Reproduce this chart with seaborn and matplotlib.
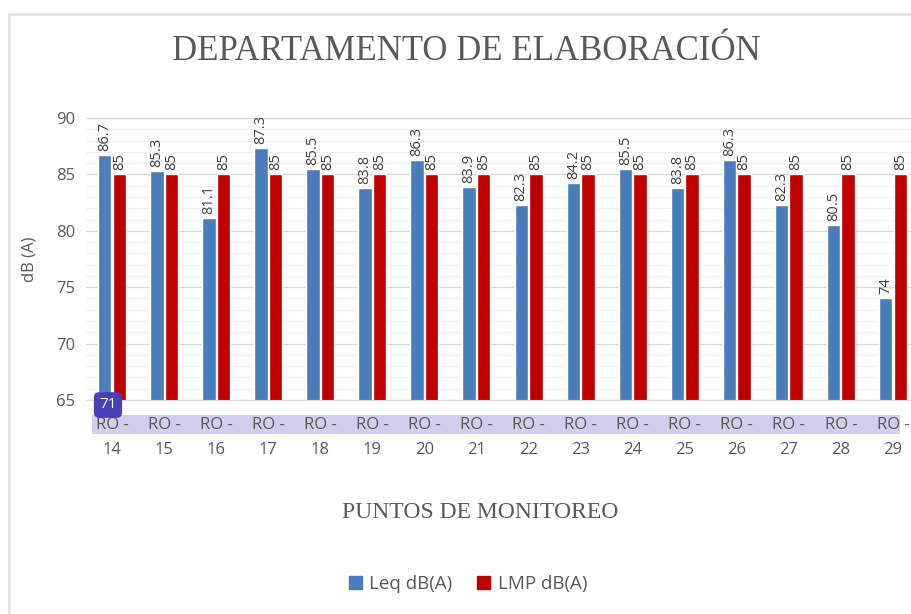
import pandas as pd
import matplotlib
matplotlib.use("Agg")
import matplotlib.pyplot as plt
import matplotlib.patches as mpatches
from matplotlib.ticker import MultipleLocator
import seaborn as sns

# datos del gráfico
puntos = ["RO -\n14", "RO -\n15", "RO -\n16", "RO -\n17", "RO -\n18", "RO -\n19",
          "RO -\n20", "RO -\n21", "RO -\n22", "RO -\n23", "RO -\n24", "RO -\n25",
          "RO -\n26", "RO -\n27", "RO -\n28", "RO -\n29"]
leq = [86.7, 85.3, 81.1, 87.3, 85.5, 83.8, 86.3, 83.9, 82.3, 84.2, 85.5, 83.8,
       86.3, 82.3, 80.5, 74]
lmp = [85] * 16
series = ["Leq dB(A)", "LMP dB(A)"]
colores = ["#4a7ebb", "#c00000"]

df = pd.DataFrame({
    "punto": puntos * 2,
    "valor": leq + lmp,
    "serie": [series[0]] * len(puntos) + [series[1]] * len(puntos),
})

sns.set_style("white")
plt.rcParams["font.family"] = ["Open Sans", "DejaVu Sans"]

W, H = 912, 614
fig = plt.figure(figsize=(W / 100, H / 100), dpi=100)

# marco del gráfico
fig.patches.append(mpatches.Rectangle((9 / W, -0.2), 1.2, 1 - 14 / H + 0.2,
                                      transform=fig.transFigure, fill=False,
                                      edgecolor="#e3e3e3", lw=2, zorder=-5))

ax = fig.add_axes([86 / W, 1 - 400 / H, (919 - 86) / W, (400 - 118) / H])
ax.set_facecolor("none")

sns.barplot(data=df, x="punto", y="valor", hue="serie", palette=colores,
            saturation=1, width=0.56, gap=0.08, ax=ax, legend=False)

ax.set_ylim(65, 90)
ax.set_xlim(-0.5, 15.5)
ax.yaxis.set_major_locator(MultipleLocator(5))
ax.yaxis.set_minor_locator(MultipleLocator(1))
ax.grid(axis="y", which="major", color="#d9d9d9", lw=1.0, zorder=0)
ax.grid(axis="y", which="minor", color="#efefef", lw=0.8, zorder=0)
ax.set_axisbelow(True)
for s in ["top", "right", "left"]:
    ax.spines[s].set_visible(False)
ax.spines["bottom"].set_color("#d9d9d9")
ax.tick_params(axis="both", which="both", length=0)
ax.tick_params(axis="y", labelsize=12, labelcolor="#595959", pad=8)
ax.tick_params(axis="x", labelsize=12, labelcolor="#595959", pad=12)
for lbl in ax.get_xticklabels():
    lbl.set_linespacing(1.8)

ax.set_xlabel("")
ax.set_ylabel("dB (A)", fontsize=12, color="#595959")
ax.yaxis.set_label_coords((38 - 86) / (919 - 86), 0.5)

for cont in ax.containers:
    ax.bar_label(cont, labels=[f"{v:g}" for v in cont.datavalues], rotation=90,
                 padding=3, fontsize=10.5, color="#404040")

# banda lila detrás de las etiquetas
fig.patches.append(mpatches.Rectangle((92 / W, 1 - 434 / H), 808 / W, 19 / H,
                                      transform=fig.transFigure,
                                      facecolor="#cfcfec", edgecolor="none", zorder=-1))

fig.text(108 / W, 1 - 405 / H, "71", ha="center", va="center", fontsize=11,
         color="white",
         bbox=dict(boxstyle="round,pad=0.35", facecolor="#4b3fb5", edgecolor="none"))

fig.text(466 / W, 1 - 51 / H, "DEPARTAMENTO DE ELABORACIÓN", ha="center", va="center",
         fontsize=25, color="#595959", family=["Liberation Serif", "DejaVu Serif"])
fig.text(480 / W, 1 - 513 / H, "PUNTOS DE MONITOREO", ha="center", va="center",
         fontsize=17, color="#595959", family=["Liberation Serif", "DejaVu Serif"])

handles = [mpatches.Patch(color=c, label=s) for c, s in zip(colores, series)]
fig.legend(handles=handles, loc="center", bbox_to_anchor=(468 / W, 1 - 584 / H),
           ncol=2, frameon=False, fontsize=13.5, handlelength=0.7, handleheight=0.7,
           columnspacing=1.3, handletextpad=0.4, labelcolor="#595959")

fig.savefig("out.png", dpi=100)
